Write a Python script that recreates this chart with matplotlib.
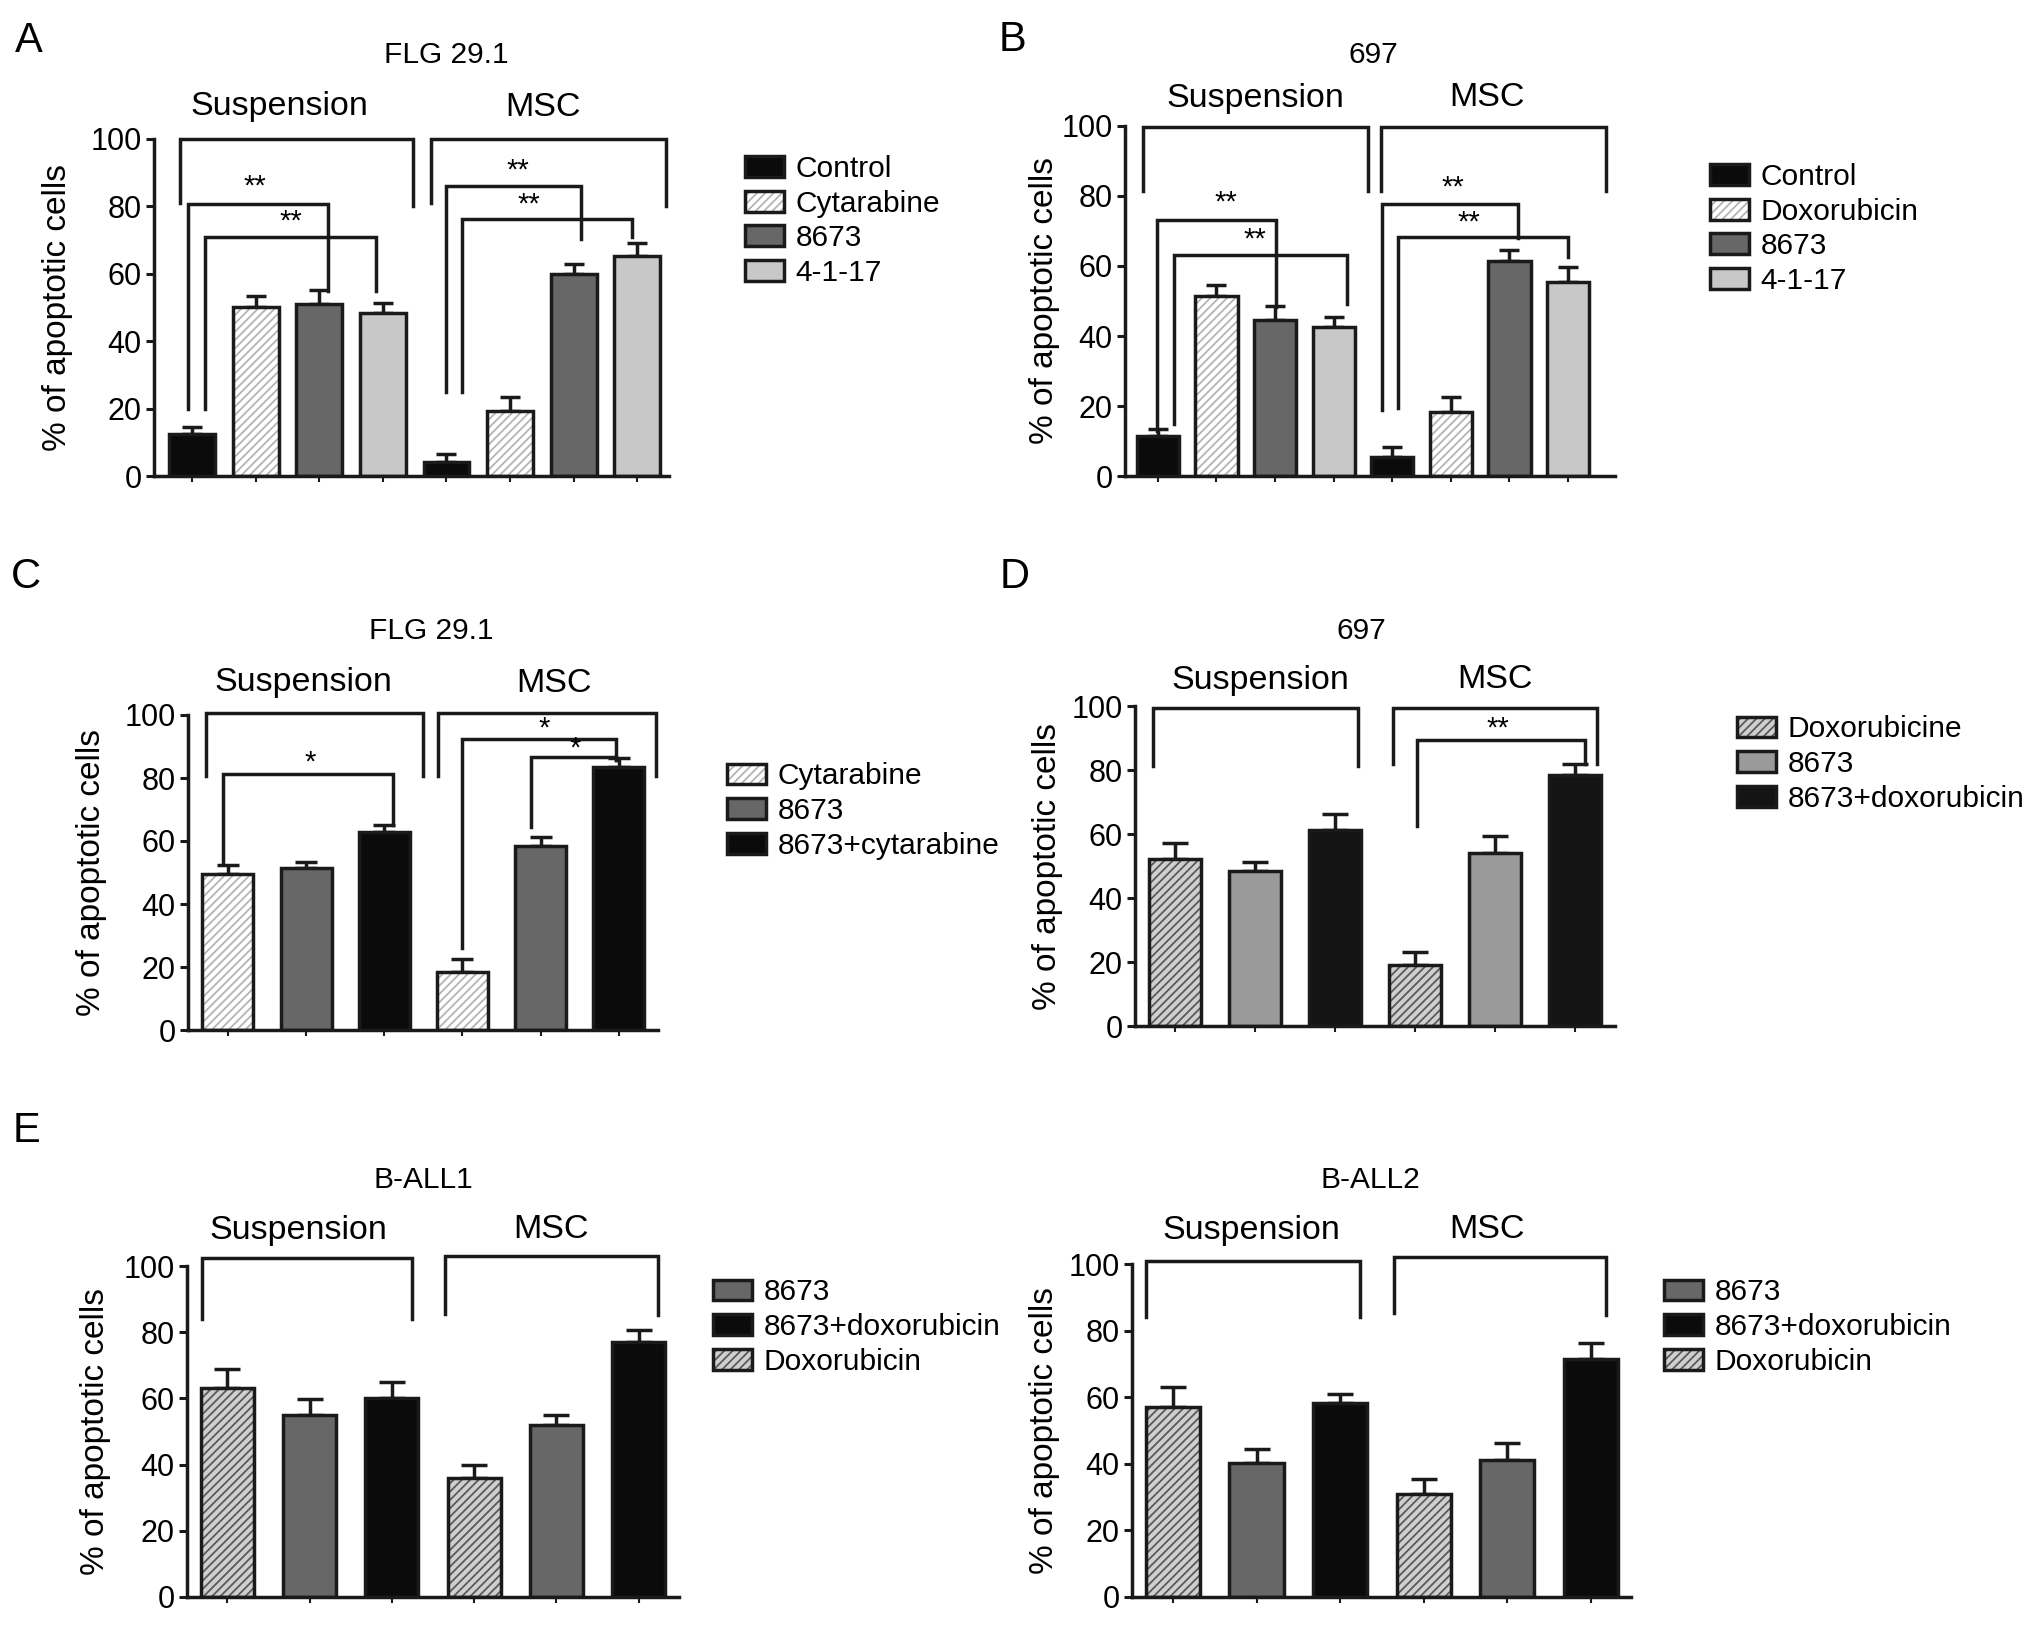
import matplotlib
matplotlib.use('Agg')
import matplotlib.pyplot as plt
from matplotlib.patches import Patch
from matplotlib.legend_handler import HandlerTuple
import numpy as np

plt.rcParams['font.family'] = ['Liberation Sans', 'DejaVu Sans']
plt.rcParams['hatch.linewidth'] = 1.3

# ---------------- data ----------------
group_names = ['Suspension', 'MSC']
y_label = '% of apoptotic cells'
y_ticks = [0, 20, 40, 60, 80, 100]

A_title = 'FLG 29.1'
A_labels = ['Control', 'Cytarabine', '8673', '4-1-17']
A_susp = [12.4, 50.2, 51.0, 48.3]
A_susp_err = [2.1, 3.2, 4.3, 2.9]
A_msc = [4.3, 19.4, 60.0, 65.3]
A_msc_err = [2.1, 3.9, 3.0, 3.9]

B_title = '697'
B_labels = ['Control', 'Doxorubicin', '8673', '4-1-17']
B_susp = [11.4, 51.4, 44.5, 42.5]
B_susp_err = [1.9, 3.1, 4.1, 3.0]
B_msc = [5.4, 18.3, 61.3, 55.5]
B_msc_err = [3.0, 4.2, 3.2, 4.1]

C_title = 'FLG 29.1'
C_labels = ['Cytarabine', '8673', '8673+cytarabine']
C_susp = [49.4, 51.4, 62.7]
C_susp_err = [3.1, 2.0, 2.5]
C_msc = [18.5, 58.3, 83.4]
C_msc_err = [3.9, 3.0, 2.8]

D_title = '697'
D_labels = ['Doxorubicine', '8673', '8673+doxorubicin']
D_susp = [52.3, 48.3, 61.4]
D_susp_err = [4.8, 2.9, 4.9]
D_msc = [19.2, 54.1, 78.3]
D_msc_err = [4.0, 5.2, 3.6]

E_labels = ['Doxorubicin', '8673', '8673+doxorubicin']
E_legend_order = ['8673', '8673+doxorubicin', 'Doxorubicin']

E1_title = 'B-ALL1'
E1_susp = [63.2, 54.9, 60.1]
E1_susp_err = [5.7, 4.9, 4.9]
E1_msc = [36.0, 52.0, 77.0]
E1_msc_err = [4.0, 3.1, 3.7]

E2_title = 'B-ALL2'
E2_susp = [57.2, 40.2, 58.3]
E2_susp_err = [5.9, 4.1, 2.8]
E2_msc = [31.0, 41.2, 71.4]
E2_msc_err = [4.3, 4.9, 4.9]

# ---------------- styles ----------------
EDGE = '#1a1a1a'
LW = 2.5
S_BLACK = dict(face='#0b0b0b', hatch=None, hc=None)
S_HLIGHT = dict(face='white', hatch='////', hc='#b4b4b4')
S_HDARK = dict(face='#cfcfcf', hatch='////', hc='#5a5a5a')
S_DARK = dict(face='#676767', hatch=None, hc=None)
S_LIGHT = dict(face='#c8c8c8', hatch=None, hc=None)
S_MID = dict(face='#9a9a9a', hatch=None, hc=None)
S_BLACK2 = dict(face='#141414', hatch=None, hc=None)

W, H = 2032, 1627
fig = plt.figure(figsize=(W / 100, H / 100), dpi=100)

FS_TICK = 22
FS_GRP = 24.5
FS_TITLE = 21.5
FS_YLAB = 24
FS_LEG = 21.5


def add_ax(l, r, y0, y100, xlim):
    ax = fig.add_axes([l / W, 1 - y0 / H, (r - l) / W, (y0 - y100) / H])
    ax.set_xlim(*xlim)
    ax.set_ylim(0, 100)
    for s in ['top', 'right']:
        ax.spines[s].set_visible(False)
    for s in ['left', 'bottom']:
        ax.spines[s].set_linewidth(LW)
        ax.spines[s].set_color(EDGE)
    ax.set_yticks(y_ticks)
    ax.tick_params(axis='y', length=6, width=2.2, labelsize=FS_TICK, pad=3, color=EDGE)
    ax.tick_params(axis='x', length=4, width=1.5, labelbottom=False, color=EDGE)
    ax.set_ylabel(y_label, fontsize=FS_YLAB)
    ax.patch.set_alpha(0)
    return ax


def draw_bars(ax, susp, susp_err, msc, msc_err, styles, width, capsize):
    n = len(susp)
    x = np.arange(2 * n)
    vals = list(susp) + list(msc)
    errs = list(susp_err) + list(msc_err)
    sty = list(styles) + list(styles)
    for xi, v, s in zip(x, vals, sty):
        if s['hatch']:
            ax.bar(xi, v, width, color=s['face'], edgecolor=s['hc'], hatch=s['hatch'],
                   linewidth=0, zorder=2)
        else:
            ax.bar(xi, v, width, color=s['face'], linewidth=0, zorder=2)
        ax.bar(xi, v, width, fill=False, edgecolor=EDGE, linewidth=LW, zorder=3)
    ax.errorbar(x, vals, yerr=[np.zeros(len(errs)), errs], fmt='none', ecolor=EDGE,
                elinewidth=LW, capsize=capsize, capthick=LW, zorder=1)
    ax.set_xticks(x)


def bracket(ax, xl, xr, ytop, yl, yr):
    ax.plot([xl, xl, xr, xr], [yl, ytop, ytop, yr], color=EDGE, lw=LW,
            clip_on=False, solid_joinstyle='miter', zorder=4)


def star(ax, x, y, s):
    ax.text(x, y, s, ha='center', va='center', fontsize=21, zorder=5)


def legend(labels, styles, xl, yc):
    handles = []
    for s in styles:
        if s['hatch']:
            h = (Patch(facecolor=s['face'], edgecolor=s['hc'], hatch=s['hatch'], linewidth=0),
                 Patch(fill=False, edgecolor=EDGE, linewidth=LW))
        else:
            h = (Patch(facecolor=s['face'], linewidth=0),
                 Patch(fill=False, edgecolor=EDGE, linewidth=LW))
        handles.append(h)
    fig.legend(handles, labels, loc='center left', bbox_to_anchor=(xl / W, 1 - yc / H),
               frameon=False, fontsize=FS_LEG, handlelength=1.3, handleheight=0.7,
               handletextpad=0.4, labelspacing=0.22, borderpad=0, borderaxespad=0,
               handler_map={tuple: HandlerTuple(ndivide=1)})


def ftext(x, y, s, size=FS_GRP, **kw):
    fig.text(x / W, 1 - y / H, s, fontsize=size, ha='center', va='center', **kw)


def ylabel_at(ax, xpix, l, r):
    # xpix is the visual centre of the rotated label; the anchor is its right edge
    ax.yaxis.set_label_coords((xpix + 17 - l) / (r - l), 0.5)


# ---------------- panel A ----------------
axA = add_ax(154, 669, 476, 139, (-0.6, 7.5))
draw_bars(axA, A_susp, A_susp_err, A_msc, A_msc_err,
          [S_BLACK, S_HLIGHT, S_DARK, S_LIGHT], 0.72, 7)
ylabel_at(axA, 56, 154, 669)
bracket(axA, -0.19, 3.48, 100, 81, 80)
bracket(axA, 3.76, 7.45, 100, 81, 80)
bracket(axA, -0.06, 2.13, 80.7, 20, 55)
star(axA, 0.99, 86, '**')
bracket(axA, 0.2, 2.89, 71, 20, 55)
star(axA, 1.55, 75.5, '**')
bracket(axA, 4.0, 6.12, 86, 25, 70.4)
star(axA, 5.13, 90.5, '**')
bracket(axA, 4.25, 6.92, 76.3, 25, 71)
star(axA, 5.3, 80.5, '**')
legend(A_labels, [S_BLACK, S_HLIGHT, S_DARK, S_LIGHT], 745, 221)
ftext(29, 41, 'A', size=30)
ftext(446, 55, A_title, size=FS_TITLE)
ftext(279, 107, group_names[0])
ftext(543, 107, group_names[1])

# ---------------- panel B ----------------
axB = add_ax(1125, 1615, 476, 126, (-0.56, 7.8))
draw_bars(axB, B_susp, B_susp_err, B_msc, B_msc_err,
          [S_BLACK, S_HLIGHT, S_DARK, S_LIGHT], 0.72, 7)
ylabel_at(axB, 1043, 1125, 1615)
bracket(axB, -0.25, 3.59, 99.6, 81.5, 81.5)
bracket(axB, 3.8, 7.64, 99.6, 81.5, 81.5)
bracket(axB, -0.02, 2.02, 73, 12.8, 48.4)
star(axB, 1.16, 78, '**')
bracket(axB, 0.28, 3.22, 63.2, 14.8, 49)
star(axB, 1.66, 67.5, '**')
bracket(axB, 3.82, 6.14, 77.8, 18.8, 68)
star(axB, 5.03, 82.5, '**')
bracket(axB, 4.1, 7.0, 68.4, 19.3, 62.7)
star(axB, 5.3, 72.5, '**')
legend(B_labels, [S_BLACK, S_HLIGHT, S_DARK, S_LIGHT], 1710, 229)
ftext(1013, 40, 'B', size=30)
ftext(1373, 55, B_title, size=FS_TITLE)
ftext(1255, 98, group_names[0])
ftext(1487, 98, group_names[1])

# ---------------- panel C ----------------
axC = add_ax(188, 658, 1030, 715, (-0.51, 5.5))
stC = [S_HLIGHT, S_DARK, S_BLACK]
draw_bars(axC, C_susp, C_susp_err, C_msc, C_msc_err, stC, 0.65, 8)
ylabel_at(axC, 90, 188, 658)
bracket(axC, -0.28, 2.49, 100.5, 80.7, 80.7)
bracket(axC, 2.69, 5.47, 100.5, 80.7, 80.7)
bracket(axC, -0.06, 2.11, 81.2, 53, 65.2)
star(axC, 1.05, 85, '*')
bracket(axC, 3.0, 4.96, 92.3, 26, 85.6)
star(axC, 4.05, 95.6, '*')
bracket(axC, 3.88, 4.96, 86.7, 64.6, 85.6)
star(axC, 4.44, 89.5, '*')
legend(C_labels, stC, 727, 811)
ftext(26, 577, 'C', size=30)
ftext(431, 631, C_title, size=FS_TITLE)
ftext(303, 683, group_names[0])
ftext(554, 683, group_names[1])

# ---------------- panel D ----------------
axD = add_ax(1135, 1615, 1026, 706, (-0.5, 5.5))
stD = [S_HDARK, S_MID, S_BLACK2]
draw_bars(axD, D_susp, D_susp_err, D_msc, D_msc_err, stD, 0.66, 9.5)
ylabel_at(axD, 1046, 1135, 1615)
bracket(axD, -0.27, 2.29, 99.5, 81.4, 81.4)
bracket(axD, 2.72, 5.27, 99.5, 81.9, 81.9)
bracket(axD, 3.02, 5.12, 89.4, 62.5, 81.9)
star(axD, 4.03, 93, '**')
legend(D_labels, stD, 1737, 764)
ftext(1015, 577, 'D', size=30)
ftext(1361, 631, D_title, size=FS_TITLE)
ftext(1260, 680, group_names[0])
ftext(1495, 680, group_names[1])

# ---------------- panel E ----------------
stE = [S_HDARK, S_DARK, S_BLACK]
stE_by_label = dict(zip(E_labels, stE))
stE_leg = [stE_by_label[l] for l in E_legend_order]

axE1 = add_ax(187, 679, 1597, 1266, (-0.49, 5.49))
draw_bars(axE1, E1_susp, E1_susp_err, E1_msc, E1_msc_err, stE, 0.645, 9.5)
ylabel_at(axE1, 94, 187, 679)
bracket(axE1, -0.31, 2.24, 102.4, 84, 84)
bracket(axE1, 2.64, 5.24, 103, 85.6, 85.2)
legend(E_legend_order, stE_leg, 713, 1327)
ftext(26, 1131, 'E', size=30)
ftext(423, 1180, E1_title, size=FS_TITLE)
ftext(298, 1230, group_names[0])
ftext(551, 1230, group_names[1])

axE2 = add_ax(1132, 1631, 1597, 1264, (-0.49, 5.48))
draw_bars(axE2, E2_susp, E2_susp_err, E2_msc, E2_msc_err, stE, 0.65, 9.5)
ylabel_at(axE2, 1043, 1132, 1631)
bracket(axE2, -0.32, 2.24, 101, 84.2, 84.2)
bracket(axE2, 2.64, 5.18, 102, 85.3, 84.8)
legend(E_legend_order, stE_leg, 1664, 1327)
ftext(1370, 1180, E2_title, size=FS_TITLE)
ftext(1251, 1230, group_names[0])
ftext(1487, 1230, group_names[1])

fig.savefig('out.png', dpi=100)
